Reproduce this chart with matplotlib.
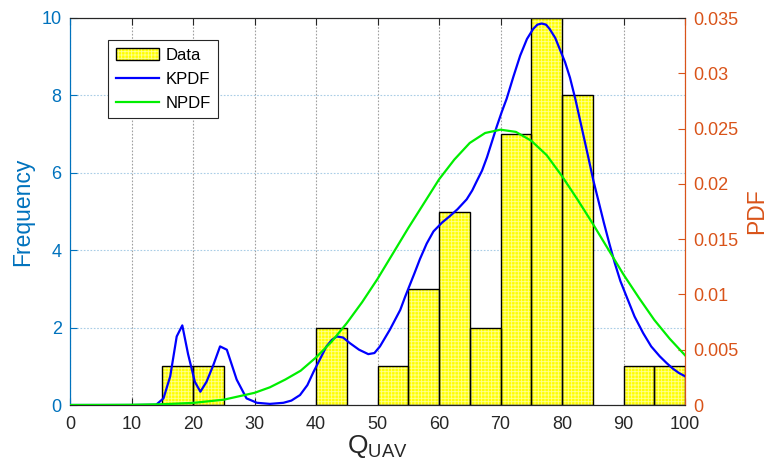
import matplotlib
matplotlib.use("Agg")
import matplotlib.pyplot as plt
from matplotlib.patches import Patch
from matplotlib.lines import Line2D
from matplotlib.legend_handler import HandlerTuple

plt.rcParams['font.family'] = ['Liberation Sans', 'DejaVu Sans']
plt.rcParams['mathtext.fontset'] = 'custom'
plt.rcParams['mathtext.rm'] = 'Liberation Sans'
plt.rcParams['mathtext.it'] = 'Liberation Sans:italic'
plt.rcParams['hatch.linewidth'] = 0.6

# Histogram data (bin left edges, width 5)
bin_left = [15, 20, 40, 50, 55, 60, 65, 70, 75, 80, 90, 95]
counts = [1, 1, 2, 1, 3, 5, 2, 7, 10, 8, 1, 1]
bin_width = 5

# Kernel PDF
kpdf_x = [0, 5, 10, 14, 15.2, 16.3, 17.35, 18.26, 19.2, 20.3, 21.2, 22.2, 23.3, 24.4, 25.5,
          27.1, 28.7, 30.4, 32.5, 34.7, 36.0, 37.4, 38.6, 39.6, 40.7, 41.7, 42.6, 43.4,
          44.4, 45.5, 47.0, 48.5, 49.5, 50.4, 52.0, 53.7, 54.5, 56.0, 56.9, 58.0, 59.1,
          60.5, 61.8, 63.0, 64.5, 65.4, 66.1, 67.0, 67.8, 68.6, 69.4, 70.2, 71.0, 72.1,
          73.2, 74.3, 75.3, 76.0, 76.7, 77.4, 78.0, 78.9, 79.7, 80.5, 81.3, 82.2, 83.2,
          84.2, 85.1, 86.0, 86.8, 87.7, 88.6, 89.5, 90.5, 91.8, 93.2, 94.5, 95.9, 97.0,
          98.0, 99.0, 100]
kpdf_y = [0, 0, 0, 0.00002, 0.0006, 0.0026, 0.0062, 0.0072, 0.0046, 0.0021, 0.0012, 0.0021,
          0.0036, 0.0053, 0.0050, 0.0023, 0.0006, 0.0002, 0.0001, 0.0002, 0.0004, 0.0009,
          0.0018, 0.0030, 0.0042, 0.0053, 0.0059, 0.0062, 0.0061, 0.0056, 0.0050, 0.0046,
          0.0047, 0.0053, 0.0068, 0.0086, 0.0098, 0.0119, 0.0132, 0.0146, 0.0157,
          0.0165, 0.0171, 0.0177, 0.0186, 0.0194, 0.0202, 0.0212, 0.0224, 0.0238, 0.0252,
          0.0265, 0.0277, 0.0297, 0.0316, 0.0331, 0.0340, 0.0344, 0.0345, 0.0344, 0.0340,
          0.0332, 0.0321, 0.0310, 0.0296, 0.0276, 0.0251, 0.0226, 0.0203, 0.0183, 0.0165,
          0.0146, 0.0128, 0.0112, 0.0098, 0.0080, 0.0065, 0.0053, 0.0044, 0.0038, 0.0033,
          0.0029, 0.0026]

# Normal PDF
npdf_x = [0, 5, 10, 15, 20, 25, 30, 32.5, 35, 37.5, 40, 42.5, 45, 47.5, 50, 52.5, 55,
          57.5, 60, 62.5, 65, 67.5, 70, 72.5, 75, 77.5, 80, 82.5, 85, 87.5, 90, 92.5,
          95, 97.5, 100]
npdf_y = [0.000002, 0.000007, 0.00002, 0.00007, 0.00019, 0.00048, 0.0011, 0.0016, 0.0023,
          0.0031, 0.0043, 0.0057, 0.0074, 0.0093, 0.0114, 0.0137, 0.0160, 0.0182, 0.0204,
          0.0222, 0.0237, 0.0246, 0.0249, 0.0247, 0.0239, 0.0226, 0.0207, 0.0186, 0.0164,
          0.0141, 0.0118, 0.0097, 0.0077, 0.0060, 0.0045]

xticks = [0, 10, 20, 30, 40, 50, 60, 70, 80, 90, 100]
left_ticks = [0, 2, 4, 6, 8, 10]
right_ticks = [0, 0.005, 0.01, 0.015, 0.02, 0.025, 0.03, 0.035]
right_ticklabels = ['0', '0.005', '0.01', '0.015', '0.02', '0.025', '0.03', '0.035']

BLUE_AX = '#0072BD'
ORANGE_AX = '#D95319'
DARK = '#262626'
BAR_FACE = '#ffff00'
BAR_HATCH = '#ffff90'

fig = plt.figure(figsize=(7.72, 4.74), dpi=100)
ax = fig.add_axes([70/772, 1 - 405/474, 615/772, 387/474])
ax2 = ax.twinx()

# bars: hatched fill then black outline
ax.bar(bin_left, counts, width=bin_width, align='edge', color=BAR_FACE,
       edgecolor=BAR_HATCH, hatch='+++++', linewidth=0, zorder=2)
ax.bar(bin_left, counts, width=bin_width, align='edge', fill=False,
       edgecolor='black', linewidth=1.0, zorder=3)

ax.set_xlim(0, 100)
ax.set_ylim(0, 10)
ax.set_xticks(xticks)
ax.set_yticks(left_ticks)
ax.set_axisbelow(True)
ax.xaxis.grid(True, color='#a0a0a0', linestyle=(0, (1.5, 1.5)), linewidth=0.8)
ax.yaxis.grid(True, color='#a9cde6', linestyle=(0, (1.5, 1.5)), linewidth=0.8)

ax.tick_params(axis='x', direction='in', top=True, colors=DARK, labelsize=13,
               length=5, pad=8)
ax.tick_params(axis='y', direction='in', colors=BLUE_AX, labelsize=13, length=5, pad=6)
ax.set_ylabel('Frequency', color=BLUE_AX, fontsize=16.5)
ax.yaxis.set_label_coords(-0.058, 0.5)
ax.set_xlabel(r'$\mathrm{Q}_{\mathrm{UAV}}$', color=DARK, fontsize=19, labelpad=0)

ax2.plot(kpdf_x, kpdf_y, color='#0000ff', linewidth=1.6, zorder=4)
ax2.plot(npdf_x, npdf_y, color='#00ee00', linewidth=1.6, zorder=4)
ax2.set_ylim(0, 0.035)
ax2.set_yticks(right_ticks)
ax2.set_yticklabels(right_ticklabels)
ax2.tick_params(axis='y', direction='in', colors=ORANGE_AX, labelsize=13, length=5, pad=6)
ax2.set_ylabel('PDF', color=ORANGE_AX, fontsize=16.5)
ax2.yaxis.set_label_coords(1.098, 0.5)

for a in (ax, ax2):
    a.spines['left'].set_color(BLUE_AX)
    a.spines['right'].set_color(ORANGE_AX)
    a.spines['top'].set_color(DARK)
    a.spines['bottom'].set_color(DARK)
    for s in a.spines.values():
        s.set_linewidth(0.8)

data_handle = (Patch(facecolor=BAR_FACE, edgecolor=BAR_HATCH, hatch='+++++', linewidth=0),
               Patch(fill=False, edgecolor='black', linewidth=1.0))
handles = [data_handle,
           Line2D([], [], color='#0000ff', linewidth=1.6),
           Line2D([], [], color='#00ee00', linewidth=1.6)]
leg = ax2.legend(handles, ['Data', 'KPDF', 'NPDF'], loc='upper left',
                 bbox_to_anchor=(108/772, 1 - 40/474), bbox_transform=fig.transFigure,
                 handler_map={tuple: HandlerTuple(ndivide=1, pad=0)},
                 fontsize=12, frameon=True, fancybox=False, edgecolor='#262626',
                 framealpha=1, borderpad=0.45, handlelength=2.6, handletextpad=0.4,
                 labelspacing=0.55, borderaxespad=0)
leg.get_frame().set_linewidth(0.8)

fig.savefig('out.png', dpi=100)
